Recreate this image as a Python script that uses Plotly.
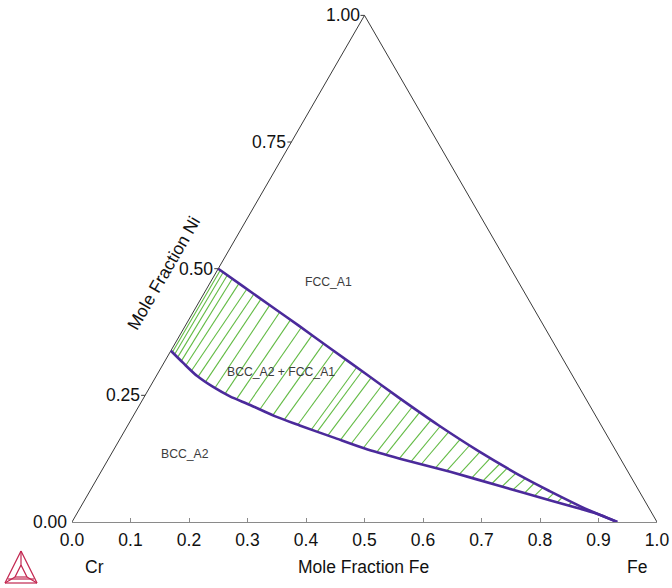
import numpy as np
import plotly.graph_objects as go

H = np.sqrt(3) / 2.0

# ---- data: phase boundaries (mole fractions Fe, Ni) ----
fcc_fe = [0.0, 0.060, 0.131, 0.193, 0.273, 0.355, 0.435, 0.531, 0.625, 0.736, 0.786, 0.863, 0.932]
fcc_ni = [0.500, 0.465, 0.424, 0.388, 0.341, 0.293, 0.246, 0.191, 0.140, 0.084, 0.061, 0.027, 0.0]

bcc_fe = [0.0, 0.033, 0.070, 0.108, 0.146, 0.189, 0.242, 0.294, 0.363, 0.428, 0.498, 0.597, 0.696, 0.795, 0.856, 0.896, 0.932]
bcc_ni = [0.338, 0.314, 0.288, 0.2665, 0.248, 0.231, 0.209, 0.1905, 0.167, 0.145, 0.125, 0.099, 0.071, 0.043, 0.026, 0.014, 0.0]

# ---- data: tie lines (BCC end -> FCC end) ----
tie_bcc_fe = [0.004, 0.010, 0.018, 0.028, 0.040, 0.055, 0.072, 0.090, 0.112, 0.135, 0.160, 0.185, 0.210, 0.238,
              0.262, 0.290, 0.318, 0.330, 0.352, 0.378, 0.400, 0.425, 0.452, 0.470, 0.497, 0.520, 0.540, 0.568,
              0.590, 0.615, 0.640, 0.662, 0.680, 0.700, 0.722, 0.745, 0.765, 0.790, 0.810, 0.832, 0.858]
tie_bcc_ni = [0.335, 0.331, 0.325, 0.318, 0.309, 0.299, 0.287, 0.277, 0.265, 0.253, 0.242, 0.233, 0.222, 0.211,
              0.202, 0.192, 0.182, 0.178, 0.171, 0.162, 0.155, 0.146, 0.138, 0.133, 0.125, 0.119, 0.114, 0.107,
              0.101, 0.094, 0.087, 0.081, 0.076, 0.070, 0.064, 0.057, 0.052, 0.044, 0.039, 0.033, 0.025]
tie_fcc_fe = [0.005, 0.012, 0.022, 0.034, 0.050, 0.069, 0.086, 0.103, 0.124, 0.148, 0.174, 0.200, 0.226, 0.254,
              0.279, 0.307, 0.334, 0.347, 0.369, 0.395, 0.417, 0.442, 0.468, 0.486, 0.513, 0.535, 0.555, 0.582,
              0.604, 0.628, 0.652, 0.674, 0.691, 0.711, 0.732, 0.752, 0.771, 0.795, 0.814, 0.835, 0.860]
tie_fcc_ni = [0.497, 0.493, 0.487, 0.480, 0.471, 0.460, 0.450, 0.440, 0.428, 0.414, 0.399, 0.384, 0.369, 0.352,
              0.338, 0.321, 0.305, 0.298, 0.285, 0.270, 0.257, 0.242, 0.227, 0.217, 0.201, 0.189, 0.178, 0.163,
              0.151, 0.138, 0.126, 0.115, 0.107, 0.097, 0.086, 0.077, 0.068, 0.057, 0.049, 0.039, 0.028]

# ---- axis ticks ----
fe_ticks = [0.0, 0.1, 0.2, 0.3, 0.4, 0.5, 0.6, 0.7, 0.8, 0.9, 1.0]
fe_tick_labels = ["0.0", "0.1", "0.2", "0.3", "0.4", "0.5", "0.6", "0.7", "0.8", "0.9", "1.0"]
ni_ticks = [0.0, 0.25, 0.50, 0.75, 1.00]
ni_tick_labels = ["0.00", "0.25", "0.50", "0.75", "1.00"]

# ---- phase labels (composition where the label sits) ----
phase_names = ["FCC_A1", "BCC_A2 + FCC_A1", "BCC_A2"]
phase_fe = [0.2025, 0.209, 0.126]
phase_ni = [0.4736, 0.296, 0.134]


def to_xy(fe, ni):
    fe = np.asarray(fe, dtype=float)
    ni = np.asarray(ni, dtype=float)
    return fe + ni / 2.0, ni * H


FONT = "Liberation Sans, Arial, sans-serif"
FS = 17.5
PX = 585.0  # pixels per unit
L, R, T, B = 72, 15, 12, 66
W, Hh = 672 - L - R, 588 - T - B

fig = go.Figure()

# triangle sides (Cr-Ni and Ni-Fe edges)
ex, ey = to_xy([0.0, 0.0, 1.0], [0.0, 1.0, 0.0])
fig.add_trace(go.Scatter(x=ex, y=ey, mode="lines", line=dict(color="#3a3a3a", width=1),
                         hoverinfo="skip", showlegend=False, cliponaxis=False))

# tie lines
tx, ty = [], []
for bf, bn, ff, fn in zip(tie_bcc_fe, tie_bcc_ni, tie_fcc_fe, tie_fcc_ni):
    x0, y0 = to_xy(bf, bn)
    x1, y1 = to_xy(ff, fn)
    tx += [float(x0), float(x1), None]
    ty += [float(y0), float(y1), None]
fig.add_trace(go.Scatter(x=tx, y=ty, mode="lines", line=dict(color="#63bb45", width=1.1),
                         hoverinfo="skip", showlegend=False, cliponaxis=False))

# phase boundaries
for fe, ni in ((fcc_fe, fcc_ni), (bcc_fe, bcc_ni)):
    bx, by = to_xy(fe, ni)
    fig.add_trace(go.Scatter(x=bx, y=by, mode="lines",
                             line=dict(color="#4b2a9b", width=2.6, shape="spline", smoothing=0.8),
                             hoverinfo="skip", showlegend=False, cliponaxis=False))

annotations = []
shapes = []

# Ni axis ticks and labels along the left edge
for v, lab in zip(ni_ticks, ni_tick_labels):
    x, y = to_xy(0.0, v)
    shapes.append(dict(type="line", xref="x", yref="y", x0=float(x), y0=float(y),
                       x1=float(x) - 4 / PX, y1=float(y), line=dict(color="#3a3a3a", width=1)))
    annotations.append(dict(x=float(x), y=float(y), xref="x", yref="y", text=lab, showarrow=False,
                            xanchor="right", yanchor="middle", xshift=-3,
                            font=dict(family=FONT, size=FS, color="#111111")))

# Ni axis title, parallel to the edge
along = 0.447
off = 45 / PX
cx, cy = to_xy(0.0, along)
annotations.append(dict(x=float(cx) - off * H, y=float(cy) + off * 0.5, xref="x", yref="y",
                        text="Mole Fraction Ni", showarrow=False, textangle=-60,
                        xanchor="center", yanchor="middle",
                        font=dict(family=FONT, size=FS, color="#111111")))

# bottom labels
for txt, xv in (("Cr", 0.039), ("Mole Fraction Fe", 0.499), ("Fe", 0.966)):
    annotations.append(dict(x=xv, y=0, xref="x", yref="y", text=txt, showarrow=False,
                            xanchor="center", yanchor="middle", yshift=-45,
                            font=dict(family=FONT, size=FS, color="#111111")))

# phase labels
for name, fe, ni in zip(phase_names, phase_fe, phase_ni):
    x, y = to_xy(fe, ni)
    annotations.append(dict(x=float(x), y=float(y), xref="x", yref="y", text=name, showarrow=False,
                            xanchor="center", yanchor="middle",
                            font=dict(family=FONT, size=12.2, color="#3c3c3c")))


# logo (decorative), in pixel-based paper coordinates
def pp(px, py):
    return (px - L) / W, (588 - B - py) / Hh


logo_col = "#c2254f"
outer = [(5, 583), (37, 583), (21, 551)]
inner = [(15, 577), (27, 577), (21, 565)]
segs = []
for i in range(3):
    segs.append((outer[i], outer[(i + 1) % 3]))
    segs.append((inner[i], inner[(i + 1) % 3]))
    segs.append((outer[i], inner[i]))
segs.append(((8, 579), (34, 579)))
for (a, b) in segs:
    xa, ya = pp(*a)
    xb, yb = pp(*b)
    shapes.append(dict(type="line", xref="paper", yref="paper", x0=xa, y0=ya, x1=xb, y1=yb,
                       line=dict(color=logo_col, width=1.2)))

fig.update_layout(
    width=672, height=588,
    margin=dict(l=L, r=R, t=T, b=B),
    paper_bgcolor="white", plot_bgcolor="white",
    xaxis=dict(range=[0, 1], showgrid=False, zeroline=False, showline=True, automargin=False,
               linecolor="#8a8a8a", linewidth=1, ticks="inside", ticklen=4, tickcolor="#8a8a8a",
               tickvals=fe_ticks, ticktext=fe_tick_labels, ticklabelstandoff=2,
               tickfont=dict(family=FONT, size=FS, color="#111111"), fixedrange=True),
    yaxis=dict(range=[0, Hh / PX], visible=False, showgrid=False, zeroline=False, fixedrange=True),
    annotations=annotations,
    shapes=shapes,
    showlegend=False,
)

fig.write_html("out.html", config={"displayModeBar": False},
               post_script="document.body.style.margin='0px';")
